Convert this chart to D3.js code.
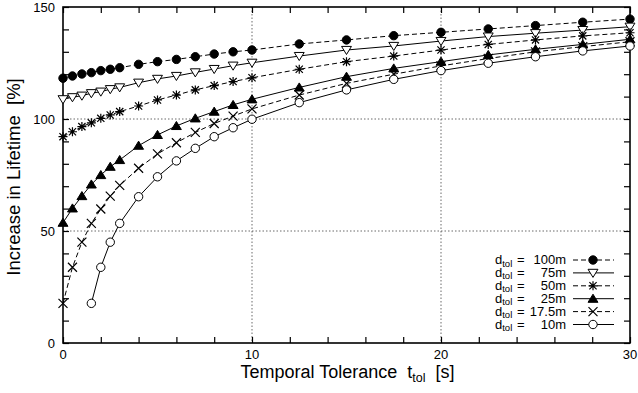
<!DOCTYPE html>
<html>
<head>
<meta charset="utf-8">
<script src="https://cdn.jsdelivr.net/npm/d3@7"></script>
<style>
  body { margin: 0; background: #fff; }
  svg { display: block; font-family: "Liberation Sans", Arial, sans-serif; }
  text { white-space: pre; }
</style>
</head>
<body>
<div id="chart"></div>
<script>
// tolerance times (s) for most series
const times = [0, 0.5, 1, 1.5, 2, 2.5, 3, 4, 5, 6, 7, 8, 9, 10, 12.5, 15, 17.5, 20, 22.5, 25, 27.5, 30];
// the 10m series starts later
const times10 = [1.5, 2, 2.5, 3, 4, 5, 6, 7, 8, 9, 10, 12.5, 15, 17.5, 20, 22.5, 25, 27.5, 30];

const d100 = [118.2, 119.2, 120.1, 120.7, 121.6, 122.2, 122.9, 124.4, 125.6, 126.6, 127.8, 129, 130, 130.8, 133.5, 135.3, 137.2, 138.7, 140.2, 141.7, 143.2, 144.6];
const d75 = [108.8, 109.7, 110.4, 111.5, 112.2, 113.3, 114.1, 116.2, 117.9, 119.2, 120.8, 122.3, 123.8, 125.1, 128.1, 130.8, 132.6, 134.8, 136.8, 138.3, 139.7, 141.2];
const d50 = [92.1, 94.3, 96.6, 98.3, 100.3, 101.8, 103.3, 105.8, 108.5, 110.7, 113, 114.9, 116.7, 118.4, 122.2, 125.6, 128.1, 130.8, 133.3, 135.3, 137.1, 138.5];
const d25 = [53.7, 60.1, 65.6, 70.8, 75, 78.7, 81.7, 88.1, 92.9, 96.9, 100.3, 103.3, 106.3, 108.8, 114.1, 118.9, 122.6, 125.6, 128.6, 131.1, 133.3, 135.6];
const d17 = [17.7, 33.8, 45, 53.4, 59.8, 65.6, 70.4, 78, 84.4, 89.4, 94, 98, 101.3, 104.5, 110.7, 115.9, 120, 123.7, 127, 130, 132.3, 134.5];
const d10 = [17.7, 33.8, 45, 53.4, 65.3, 74.2, 81.3, 86.9, 92.1, 96.1, 99.9, 107.3, 113, 117.7, 121.6, 124.9, 127.8, 130.4, 132.6];

const legendLabels = ["100m", "75m", "50m", "25m", "17.5m", "10m"];
const xTickLabels = [0, 10, 20, 30];
const yTickLabels = [0, 50, 100, 150];

const series = [
    {label: legendLabels[0], t: times, v: d100, marker: "circleFill", dashed: true},
    {label: legendLabels[1], t: times, v: d75, marker: "triDown", dashed: false},
    {label: legendLabels[2], t: times, v: d50, marker: "star", dashed: true},
    {label: legendLabels[3], t: times, v: d25, marker: "triUp", dashed: false},
    {label: legendLabels[4], t: times, v: d17, marker: "cross", dashed: true},
    {label: legendLabels[5], t: times10, v: d10, marker: "circleOpen", dashed: false}
];

const margin = {top: 7, right: 8, bottom: 50, left: 63};
const width = 638 - margin.left - margin.right;
const height = 393 - margin.top - margin.bottom;

const svg = d3.select("#chart")
    .append("svg")
    .attr("width", 638)
    .attr("height", 393)
    .append("g")
    .attr("transform", `translate(${margin.left},${margin.top})`);

const x = d3.scaleLinear().domain([0, 30]).range([0, width]);
const y = d3.scaleLinear().domain([0, 150]).range([height, 0]);

// grid lines (dotted) at the labelled inner ticks
svg.selectAll(".gx")
    .data(xTickLabels.filter(d => d > 0 && d < 30))
    .enter().append("line")
    .attr("x1", d => x(d)).attr("x2", d => x(d))
    .attr("y1", 0).attr("y2", height)
    .attr("stroke", "#444").attr("stroke-width", 0.8)
    .attr("stroke-dasharray", "1.5,2");

svg.selectAll(".gy")
    .data(yTickLabels.filter(d => d > 0 && d < 150))
    .enter().append("line")
    .attr("x1", 0).attr("x2", width)
    .attr("y1", d => y(d)).attr("y2", d => y(d))
    .attr("stroke", "#444").attr("stroke-width", 0.8)
    .attr("stroke-dasharray", "1.5,2");

// axes: ticks point inward
const xMinor = d3.range(0, 31, 2);
const yMinor = d3.range(0, 151, 10);

function noLabel() { return ""; }

svg.append("g")
    .attr("transform", `translate(0,${height})`)
    .call(d3.axisBottom(x).tickValues(xMinor).tickSize(-6).tickFormat(noLabel));
svg.append("g")
    .call(d3.axisTop(x).tickValues(xMinor).tickSize(-6).tickFormat(noLabel));
svg.append("g")
    .call(d3.axisLeft(y).tickValues(yMinor).tickSize(-6).tickFormat(noLabel));
svg.append("g")
    .attr("transform", `translate(${width},0)`)
    .call(d3.axisRight(y).tickValues(yMinor).tickSize(-6).tickFormat(noLabel));

svg.selectAll(".domain").remove();
svg.selectAll(".tick line").attr("stroke", "#000").attr("stroke-width", 1.2);

// frame
svg.append("rect")
    .attr("width", width).attr("height", height)
    .attr("fill", "none").attr("stroke", "#000").attr("stroke-width", 1.6);

// tick labels
svg.selectAll(".xl")
    .data(xTickLabels)
    .enter().append("text")
    .attr("x", d => x(d)).attr("y", height + 16)
    .attr("text-anchor", "middle")
    .attr("font-size", 13)
    .text(d => d);

svg.selectAll(".yl")
    .data(yTickLabels)
    .enter().append("text")
    .attr("x", -8).attr("y", d => y(d) + 5)
    .attr("text-anchor", "end")
    .attr("font-size", 13)
    .text(d => d);

// axis titles
const xTitle = svg.append("text")
    .attr("x", width / 2 + 1).attr("y", height + 35)
    .attr("text-anchor", "middle")
    .attr("font-size", 18);
xTitle.append("tspan").text("Temporal Tolerance  t");
xTitle.append("tspan").attr("font-size", 12.5).attr("dy", 4).text("tol");
xTitle.append("tspan").attr("dy", -4).text("  [s]");

svg.append("text")
    .attr("transform", `translate(${-43},${height / 2 + 2}) rotate(-90)`)
    .attr("text-anchor", "middle")
    .attr("font-size", 18.5)
    .text("Increase in Lifetime  [%]");

// markers
function drawMarker(g, type, cx, cy) {
    const s = 4.5;
    if (type === "circleFill" || type === "circleOpen") {
        g.append("circle").attr("cx", cx).attr("cy", cy).attr("r", 4.2)
            .attr("fill", type === "circleFill" ? "#000" : "#fff")
            .attr("stroke", "#000").attr("stroke-width", 1);
    } else if (type === "triUp" || type === "triDown") {
        const dir = type === "triUp" ? 1 : -1;
        const pts = [[cx, cy - dir * s], [cx - s * 1.1, cy + dir * s * 0.8], [cx + s * 1.1, cy + dir * s * 0.8]];
        g.append("polygon").attr("points", pts.map(p => p.join(",")).join(" "))
            .attr("fill", type === "triUp" ? "#000" : "#fff")
            .attr("stroke", "#000").attr("stroke-width", 1);
    } else if (type === "cross") {
        g.append("path")
            .attr("d", `M${cx - s},${cy - s}L${cx + s},${cy + s}M${cx - s},${cy + s}L${cx + s},${cy - s}`)
            .attr("stroke", "#000").attr("stroke-width", 1.2);
    } else if (type === "star") {
        const k = s * 0.8;
        g.append("path")
            .attr("d", `M${cx - s},${cy}L${cx + s},${cy}M${cx},${cy - s}L${cx},${cy + s}` +
                `M${cx - k},${cy - k}L${cx + k},${cy + k}M${cx - k},${cy + k}L${cx + k},${cy - k}`)
            .attr("stroke", "#000").attr("stroke-width", 1.2);
    }
}

const line = d3.line()
    .x(d => x(d[0]))
    .y(d => y(d[1]));

series.forEach(s => {
    const pts = s.t.map((t, i) => [t, s.v[i]]);
    svg.append("path")
        .datum(pts)
        .attr("d", line)
        .attr("fill", "none")
        .attr("stroke", "#000")
        .attr("stroke-width", 1)
        .attr("stroke-dasharray", s.dashed ? "5,3" : null);
    const g = svg.append("g");
    pts.forEach(p => drawMarker(g, s.marker, x(p[0]), y(p[1])));
});

// legend
const legend = svg.append("g");
series.forEach((s, i) => {
    const ly = 260 + i * 12.9 - margin.top;
    const t = legend.append("text")
        .attr("x", 495 - margin.left).attr("y", ly + 4)
        .attr("font-size", 13);
    t.append("tspan").text("d");
    t.append("tspan").attr("font-size", 9.5).attr("dy", 2.5).text("tol");
    legend.append("text")
        .attr("x", 517 - margin.left).attr("y", ly + 4)
        .attr("font-size", 13)
        .text("=");
    legend.append("text")
        .attr("x", 566 - margin.left).attr("y", ly + 4)
        .attr("text-anchor", "end")
        .attr("font-size", 13)
        .text(s.label);
    legend.append("line")
        .attr("x1", 573 - margin.left).attr("x2", 614 - margin.left)
        .attr("y1", ly).attr("y2", ly)
        .attr("stroke", "#000").attr("stroke-width", 1)
        .attr("stroke-dasharray", s.dashed ? "5,3" : null);
    drawMarker(legend, s.marker, 593 - margin.left, ly);
});
</script>
</body>
</html>
